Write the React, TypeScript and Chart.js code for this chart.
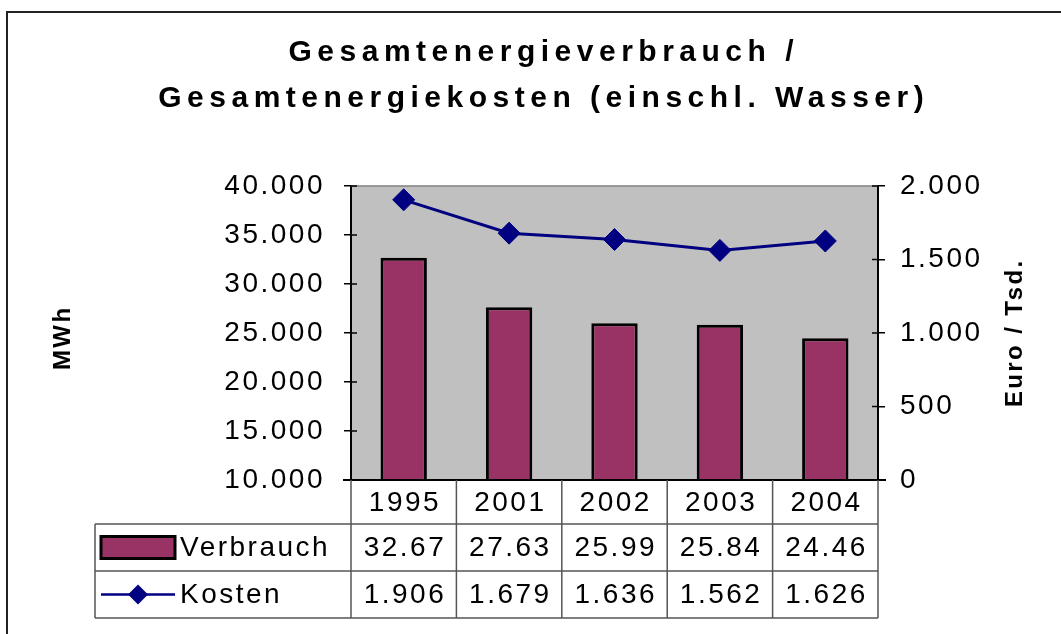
import { useEffect, useRef } from 'react';
import { Chart, registerables } from 'chart.js';

Chart.register(...registerables);

// ---- data ----
const years = ['1995', '2001', '2002', '2003', '2004'];
const verbrauch = [32670, 27630, 25990, 25840, 24460]; // MWh
const kosten = [1906, 1679, 1636, 1562, 1626]; // Euro / Tsd.
const seriesNames = ['Verbrauch', 'Kosten'];
const titleLines = ['Gesamtenergieverbrauch /', 'Gesamtenergiekosten (einschl. Wasser)'];
const leftTitle = 'MWh';
const rightTitle = 'Euro / Tsd.';
const leftRange = [10000, 40000, 5000];
const rightRange = [0, 2000, 500];

const FAMILY = '"Liberation Sans", Arial, sans-serif';
const BAR_COLOR = '#993366';
const LINE_COLOR = '#000080';
const BODY_SIZE = 28;
const BODY_SPACING = 2.5;

function fmt(n: number): string {
  return String(Math.round(n)).replace(/\B(?=(\d{3})+(?!\d))/g, '.');
}

function spacedText(
  ctx: CanvasRenderingContext2D,
  text: string,
  x: number,
  y: number,
  align: 'left' | 'center' | 'right',
  font: string,
  spacing: number
) {
  ctx.font = font;
  (ctx as any).letterSpacing = spacing + 'px';
  ctx.textAlign = 'left';
  ctx.textBaseline = 'middle';
  const w = ctx.measureText(text).width - spacing;
  let x0 = x;
  if (align === 'center') x0 = x - w / 2;
  if (align === 'right') x0 = x - w;
  ctx.fillText(text, x0, y);
}

function line(ctx: CanvasRenderingContext2D, x1: number, y1: number, x2: number, y2: number) {
  ctx.beginPath();
  ctx.moveTo(x1, y1);
  ctx.lineTo(x2, y2);
  ctx.stroke();
}

function diamond(ctx: CanvasRenderingContext2D, x: number, y: number, r: number) {
  ctx.beginPath();
  ctx.moveTo(x, y - r);
  ctx.lineTo(x + r, y);
  ctx.lineTo(x, y + r);
  ctx.lineTo(x - r, y);
  ctx.closePath();
  ctx.fill();
}

const excelPlugin = {
  id: 'excelLook',
  beforeDraw(chart: any) {
    const { ctx, chartArea: a } = chart;
    ctx.save();
    ctx.fillStyle = '#ffffff';
    ctx.fillRect(0, 0, chart.width, chart.height);
    ctx.fillStyle = '#c0c0c0';
    ctx.fillRect(a.left, a.top, a.right - a.left, a.bottom - a.top);
    ctx.restore();
    (ctx as any).letterSpacing = BODY_SPACING + 'px';
  },
  afterDraw(chart: any) {
    const { ctx, chartArea: a } = chart;
    const xs = chart.scales.x;
    ctx.save();

    // outer frame
    ctx.strokeStyle = '#222';
    ctx.lineWidth = 2;
    ctx.beginPath();
    ctx.moveTo(7, chart.height);
    ctx.lineTo(7, 12);
    ctx.lineTo(chart.width, 12);
    ctx.stroke();

    // plot borders
    ctx.strokeStyle = '#808080';
    ctx.lineWidth = 1.5;
    line(ctx, a.left, a.top, a.right, a.top);
    ctx.strokeStyle = '#000';
    ctx.lineWidth = 2;
    line(ctx, a.left - 8, a.bottom, a.right + 8, a.bottom);

    // inner halves of tick marks
    ctx.lineWidth = 1.5;
    const yl = chart.scales.y;
    yl.ticks.forEach((t: any) => {
      const py = yl.getPixelForValue(t.value);
      line(ctx, a.left, py, a.left + 6, py);
    });
    const yr = chart.scales.y1;
    yr.ticks.forEach((t: any) => {
      const py = yr.getPixelForValue(t.value);
      line(ctx, a.right - 6, py, a.right, py);
    });

    // title
    ctx.fillStyle = '#000';
    const tFont = `bold 30px ${FAMILY}`;
    spacedText(ctx, titleLines[0], 541, 53, 'center', tFont, 5.5);
    spacedText(ctx, titleLines[1], 541, 99, 'center', tFont, 5.5);

    // axis titles
    const aFont = `bold 24px ${FAMILY}`;
    ctx.save();
    ctx.translate(63, 339);
    ctx.rotate(-Math.PI / 2);
    spacedText(ctx, leftTitle, 0, 0, 'center', aFont, 2.4);
    ctx.restore();
    ctx.save();
    ctx.translate(1015, 334);
    ctx.rotate(-Math.PI / 2);
    spacedText(ctx, rightTitle, 0, 0, 'center', aFont, 2.4);
    ctx.restore();

    // data table
    const n = years.length;
    const cw = xs.getPixelForValue(1) - xs.getPixelForValue(0);
    const top = a.bottom;
    const r1 = top + 44;
    const r2 = r1 + 47;
    const r3 = r2 + 47;
    const legLeft = 95;
    ctx.strokeStyle = '#555';
    ctx.lineWidth = 1.5;
    for (let i = 0; i <= n; i++) {
      const x = i < n ? xs.getPixelForValue(i) - cw / 2 : xs.getPixelForValue(n - 1) + cw / 2;
      line(ctx, x, top, x, r3);
    }
    line(ctx, legLeft, r1, a.right, r1);
    line(ctx, legLeft, r2, a.right, r2);
    line(ctx, legLeft, r3, a.right, r3);
    line(ctx, legLeft, r1, legLeft, r3);

    const bFont = `${BODY_SIZE}px ${FAMILY}`;
    ctx.fillStyle = '#000';
    for (let i = 0; i < n; i++) {
      const cx = xs.getPixelForValue(i);
      spacedText(ctx, years[i], cx, (top + r1) / 2 + 1, 'center', bFont, BODY_SPACING);
      spacedText(ctx, (verbrauch[i] / 1000).toFixed(2), cx, (r1 + r2) / 2 + 1, 'center', bFont, BODY_SPACING);
      spacedText(ctx, fmt(kosten[i]), cx, (r2 + r3) / 2 + 1, 'center', bFont, BODY_SPACING);
    }

    // legend keys
    const m1 = (r1 + r2) / 2;
    const m2 = (r2 + r3) / 2;
    ctx.fillStyle = BAR_COLOR;
    ctx.fillRect(101, m1 - 11, 74, 22);
    ctx.strokeStyle = '#000';
    ctx.lineWidth = 3;
    ctx.strokeRect(101, m1 - 11, 74, 22);
    ctx.strokeStyle = LINE_COLOR;
    ctx.lineWidth = 2.5;
    line(ctx, 101, m2, 175, m2);
    ctx.fillStyle = LINE_COLOR;
    diamond(ctx, 138, m2, 10);

    ctx.fillStyle = '#000';
    spacedText(ctx, seriesNames[0], 180, m1 + 1, 'left', bFont, BODY_SPACING);
    spacedText(ctx, seriesNames[1], 180, m2 + 1, 'left', bFont, BODY_SPACING);

    ctx.restore();
  },
};

const LEFT_W = 140;
const RIGHT_W = 120;

export default function App() {
  const ref = useRef<HTMLCanvasElement | null>(null);

  useEffect(() => {
    if (!ref.current) return;
    const chart = new Chart(ref.current, {
      type: 'bar',
      data: {
        labels: years,
        datasets: [
          {
            type: 'line',
            label: seriesNames[1],
            data: kosten,
            yAxisID: 'y1',
            borderColor: LINE_COLOR,
            backgroundColor: LINE_COLOR,
            borderWidth: 3,
            pointStyle: 'rectRot',
            pointRadius: 11,
            pointBackgroundColor: LINE_COLOR,
            pointBorderColor: LINE_COLOR,
            pointBorderWidth: 1,
            tension: 0,
            order: 0,
          } as any,
          {
            type: 'bar',
            label: seriesNames[0],
            data: verbrauch,
            yAxisID: 'y',
            base: leftRange[0],
            backgroundColor: BAR_COLOR,
            borderColor: '#000',
            borderWidth: 3,
            barPercentage: 0.44,
            categoryPercentage: 1,
            order: 1,
          } as any,
        ],
      },
      options: {
        responsive: false,
        animation: false,
        devicePixelRatio: 1,
        layout: {
          padding: { left: 351 - LEFT_W, right: 1061 - 878 - RIGHT_W, top: 186, bottom: 154 },
        },
        plugins: {
          legend: { display: false },
          title: { display: false },
          tooltip: { enabled: false },
        },
        scales: {
          x: { type: 'category', display: false, offset: true, grid: { display: false } },
          y: {
            position: 'left',
            min: leftRange[0],
            max: leftRange[1],
            ticks: {
              stepSize: leftRange[2],
              callback: (v: any) => fmt(Number(v)),
              color: '#000',
              font: { family: FAMILY, size: BODY_SIZE },
              padding: 19,
            },
            grid: { drawOnChartArea: false, drawTicks: true, tickLength: 7, color: '#000', lineWidth: 1.5 },
            border: { display: true, color: '#000', width: 2 },
            afterFit: (s: any) => {
              s.width = LEFT_W;
            },
          },
          y1: {
            position: 'right',
            min: rightRange[0],
            max: rightRange[1],
            ticks: {
              stepSize: rightRange[2],
              callback: (v: any) => fmt(Number(v)),
              color: '#000',
              font: { family: FAMILY, size: BODY_SIZE },
              padding: 15,
            },
            grid: { drawOnChartArea: false, drawTicks: true, tickLength: 7, color: '#000', lineWidth: 1.5 },
            border: { display: true, color: '#000', width: 2 },
            afterFit: (s: any) => {
              s.width = RIGHT_W;
            },
          },
        },
      } as any,
      plugins: [excelPlugin as any],
    });
    return () => chart.destroy();
  }, []);

  return (
    <canvas
      ref={ref}
      width={1061}
      height={634}
      style={{ position: 'fixed', left: 0, top: 0, width: 1061, height: 634 }}
    />
  );
}
